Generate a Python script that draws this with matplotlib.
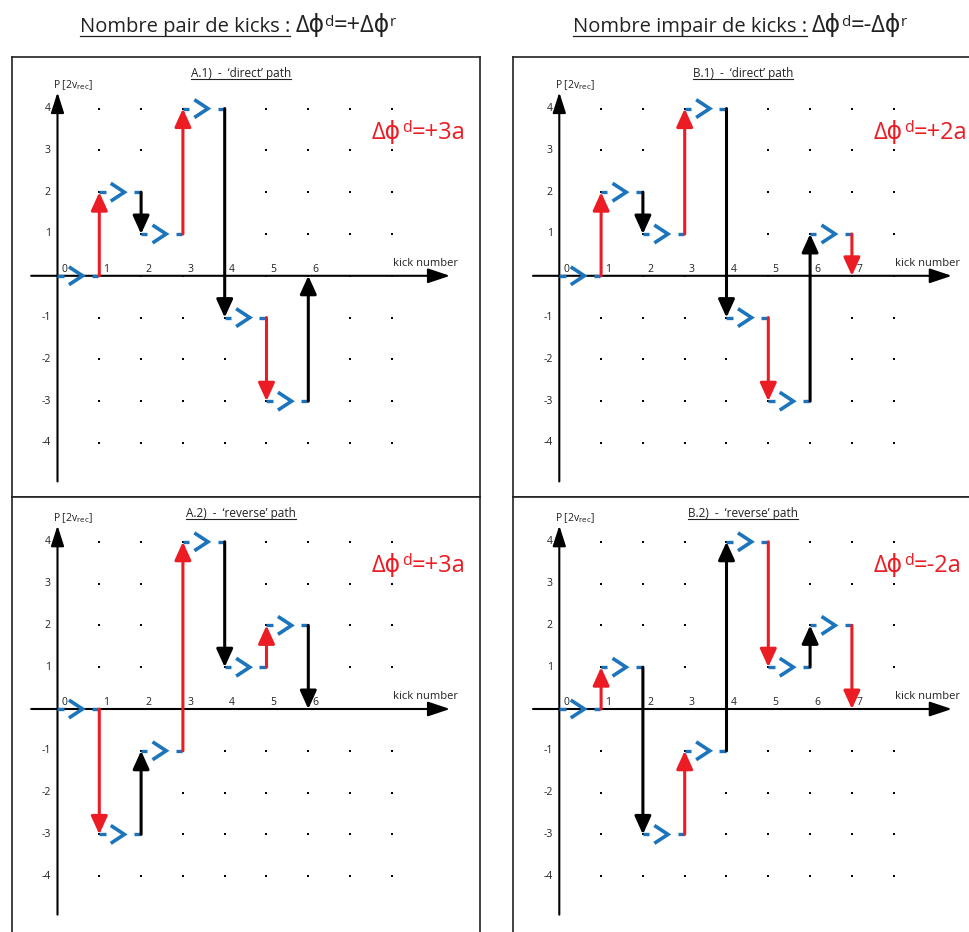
import matplotlib
matplotlib.use("Agg")
import matplotlib.pyplot as plt
import numpy as np
from matplotlib.transforms import IdentityTransform
from matplotlib.lines import Line2D

plt.rcParams["font.family"] = ["Open Sans", "DejaVu Sans"]

# Momentum P (units of 2 v_rec) after each kick, starting from P = 0
path_a1 = [0, 2, 1, 4, -1, -3, 0]
path_b1 = [0, 2, 1, 4, -1, -3, 1, 0]
path_a2 = [0, -3, -1, 4, 1, 2, 0]
path_b2 = [0, 1, -3, -1, 4, 1, 2, 0]

panel_titles = ["A.1)  -  \u2018direct\u2019 path", "B.1)  -  \u2018direct\u2019 path",
                "A.2)  -  \u2018reverse\u2019 path", "B.2)  -  \u2018reverse\u2019 path"]
phase_values = ["+3a", "+2a", "+3a", "-2a"]
column_headers = ["Nombre pair de kicks :", "Nombre impair de kicks :"]
column_relations = ["=+", "=-"]

grid_kicks = np.arange(1, 9)
grid_levels = np.arange(-4, 5)
level_ticks = [4, 3, 2, 1, -1, -2, -3, -4]

RED = "#ec1c24"
BLUE = "#1c75bc"
INK = "#222222"
PHI = "\u0394\u03d5"

W, H = 970, 932
S = 41.8  # pixels per unit (kick or momentum step)

fig = plt.figure(figsize=(W / 100, H / 100), dpi=100)
renderer = fig.canvas.get_renderer()

# panel boxes in pixels: left, top, right, bottom, origin x, origin y
boxes = [
    (12, 57, 480, 497, 57.5, 275.8),
    (513, 57, 985, 497, 559.3, 275.8),
    (12, 497, 480, 945, 57.5, 709.0),
    (513, 497, 985, 945, 559.3, 709.0),
]
paths = [path_a1, path_b1, path_a2, path_b2]


def text_run(x, y, pieces):
    """Draw consecutive text pieces starting at display point (x, y) on the baseline."""
    for s, size, rise, color, underline in pieces:
        if s == "":
            x += size
            continue
        t = fig.text(x, y + rise, s, transform=IdentityTransform(), fontsize=size,
                     color=color, ha="left", va="baseline")
        bb = t.get_window_extent(renderer)
        if underline:
            fig.add_artist(Line2D([bb.x0, bb.x1], [y - 3.5, y - 3.5], transform=IdentityTransform(),
                                  color=color, lw=0.9))
        x = bb.x1
    return x


def kick_arrow(ax, x, y0, y1, color, lw, hl, hw):
    ax.annotate("", xy=(x, y1), xytext=(x, y0),
                arrowprops=dict(arrowstyle=f"-|>,head_length={hl},head_width={hw}",
                                color=color, lw=lw, shrinkA=0, shrinkB=0,
                                mutation_scale=10),
                zorder=3)


for i, ((l, t, r, b, ox, oy), path) in enumerate(zip(boxes, paths)):
    ax = fig.add_axes([l / W, (H - b) / H, (r - l) / W, (b - t) / H])
    ax.set_xlim((l - ox) / S, (r - ox) / S)
    ax.set_ylim((oy - b) / S, (oy - t) / S)
    ax.set_xticks([])
    ax.set_yticks([])
    for sp in ax.spines.values():
        sp.set_color(INK)
        sp.set_linewidth(1.2)

    gx, gy = np.meshgrid(grid_kicks, grid_levels)
    ax.scatter(gx.ravel(), gy.ravel(), s=3, marker="s", c="k", lw=0, zorder=1)

    # axes with arrow heads
    ax.annotate("", xy=(9.39, 0), xytext=(-0.63, 0),
                arrowprops=dict(arrowstyle="-|>,head_length=1.35,head_width=0.45",
                                color="k", lw=1.5, shrinkA=0, shrinkB=0), zorder=2)
    ax.annotate("", xy=(0, 4.39), xytext=(0, -4.92),
                arrowprops=dict(arrowstyle="-|>,head_length=1.25,head_width=0.4",
                                color="k", lw=1.5, shrinkA=0, shrinkB=0), zorder=2)

    for lv in level_ticks:
        ax.text(-0.16, lv, f"{lv}", ha="right", va="center", fontsize=7.5, color=INK)
    for k in range(len(path)):
        ax.text(k + 0.1, 0.1, str(k), ha="left", va="baseline", fontsize=7.5, color=INK)
    ax.text(8.03, 0.23, "kick number", ha="left", va="baseline", fontsize=8, color=INK)
    ax.text(-0.11, 4.49, r"P [2v$_{\mathrm{rec}}$]", ha="left", va="baseline", fontsize=7.5,
            color=INK)

    # free evolution between kicks
    for k in range(len(path) - 1):
        p = path[k]
        ax.plot([k, k + 0.15], [p, p], color=BLUE, lw=2.4, solid_capstyle="butt", zorder=3)
        ax.plot([k + 0.83, k + 0.98], [p, p], color=BLUE, lw=2.4, solid_capstyle="butt", zorder=3)
        ax.plot([k + 0.31, k + 0.6, k + 0.31], [p + 0.19, p, p - 0.19], color=BLUE, lw=2.6,
                solid_joinstyle="miter", zorder=3)

    # kicks: odd ones in red, even ones in black
    for k in range(1, len(path)):
        color = RED if k % 2 else "k"
        kick_arrow(ax, k, path[k - 1], path[k], color, 2.2, 1.1, 0.5)

    # panel title (underlined)
    tx, _ = ax.transData.transform((4.39, 0))
    ty = H - (t + 19.5)
    tt = fig.text(tx, ty, panel_titles[i], transform=IdentityTransform(), fontsize=8.5,
                  ha="center", va="baseline", color=INK)
    bb = tt.get_window_extent(renderer)
    fig.add_artist(Line2D([bb.x0, bb.x1], [ty - 2.5, ty - 2.5], transform=IdentityTransform(),
                          color=INK, lw=0.8))

    # accumulated phase along the path
    px, py = ax.transData.transform((7.52, 3.28))
    text_run(px, py, [(PHI, 17, 0, RED, False),
                      ("", 1, 0, None, False),
                      ("d", 11.5, 6.5, RED, False),
                      ("=" + phase_values[i], 17, 0, RED, False)])

# column headers
for x0, head, rel in zip([80, 573], column_headers, column_relations):
    text_run(x0, H - 32, [(head, 14.5, 0, INK, True),
                          ("", 5, 0, None, False),
                          (PHI, 17, 0, INK, False),
                          ("d", 11, 6, INK, False),
                          (rel + PHI, 17, 0, INK, False),
                          ("r", 11, 6, INK, False)])

fig.savefig("out.png", dpi=100)
